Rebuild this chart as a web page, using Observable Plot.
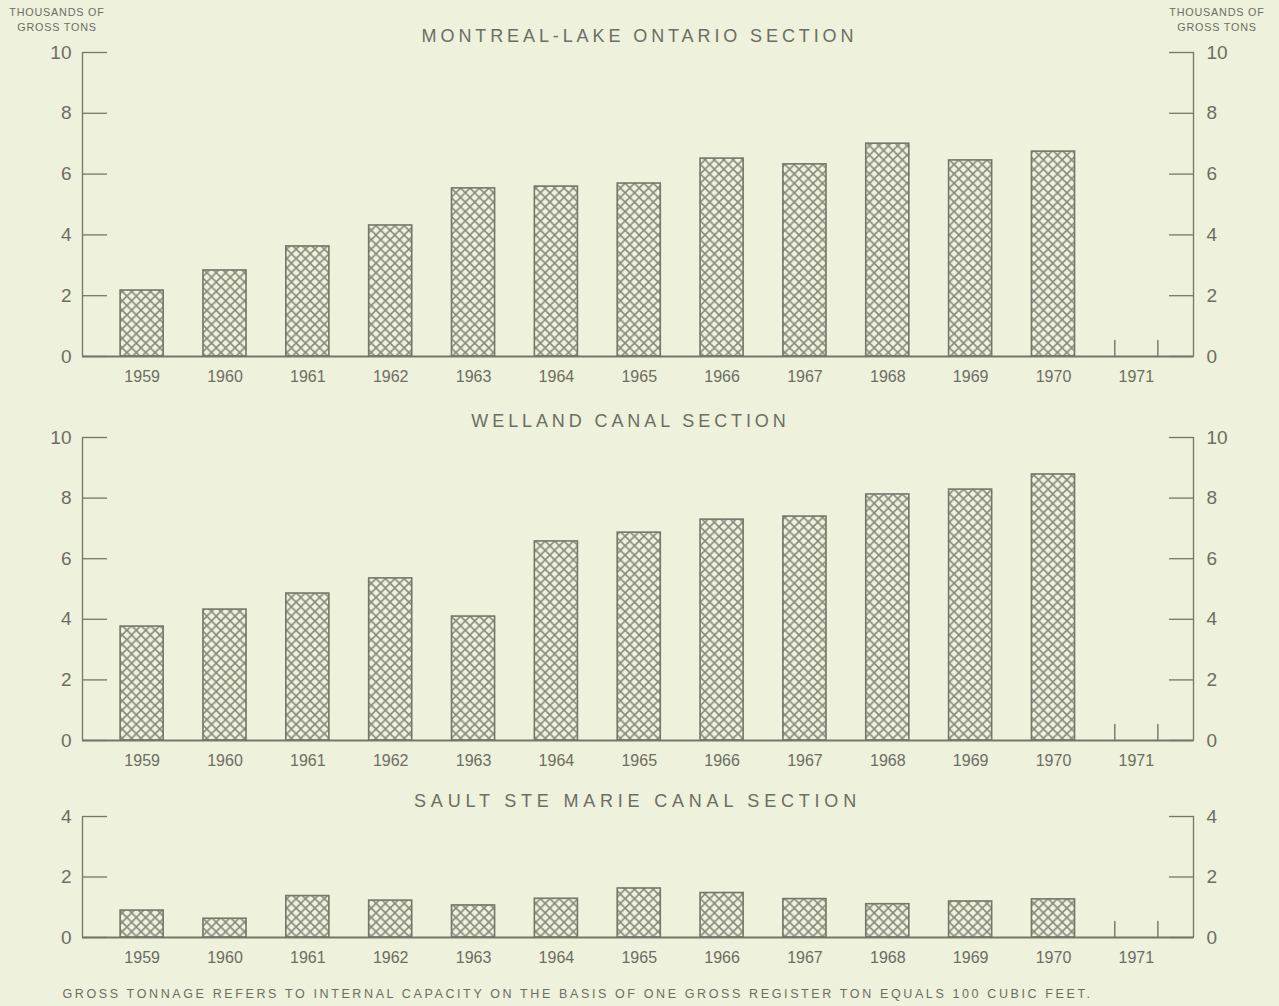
<!DOCTYPE html>
<html>
<head>
<meta charset="utf-8">
<script src="https://cdn.jsdelivr.net/npm/d3@7"></script>
<script src="https://cdn.jsdelivr.net/npm/@observablehq/plot@0.6"></script>
<style>
  html, body { margin: 0; padding: 0; background: #eef1dc; }
  body { width: 1279px; height: 1006px; position: relative; overflow: hidden;
         font-family: "Liberation Sans", "DejaVu Sans", sans-serif; color: #6c6e62; }
  .abs { position: absolute; }
  .title { font-size: 18px; letter-spacing: 3.9px; text-align: center; width: 1279px; left: 0; }
  .unit { font-size: 10.8px; letter-spacing: 0.8px; text-align: center; line-height: 15px; }
  .caption { font-size: 12.5px; letter-spacing: 2.62px; text-align: center; width: 1279px; left: -62px; }
  svg text { fill: #6c6e62; }
</style>
</head>
<body>
<svg width="0" height="0" style="position:absolute">
  <defs>
    <pattern id="hatch" patternUnits="userSpaceOnUse" width="9.4" height="9.4">
      <rect width="9.4" height="9.4" fill="#eef1dc"></rect>
      <path d="M0,0 L9.4,9.4 M9.4,0 L0,9.4 M-1,8.4 L1,10.4 M8.4,-1 L10.4,1" stroke="#85877a" stroke-width="1.5" fill="none"></path>
    </pattern>
  </defs>
</svg>

<div class="abs unit" style="left:0px; top:5px; width:114px;">THOUSANDS OF<br>GROSS TONS</div>
<div class="abs unit" style="left:1160px; top:5px; width:114px;">THOUSANDS OF<br>GROSS TONS</div>
<div class="abs title" style="top:26px;">MONTREAL-LAKE ONTARIO SECTION</div>
<div class="abs title" style="top:411px; left:-9px;">WELLAND CANAL SECTION</div>
<div class="abs title" style="top:791px; letter-spacing:4.8px; left:-2px;">SAULT STE MARIE CANAL SECTION</div>
<div class="abs caption" style="top:987px;">GROSS TONNAGE REFERS TO INTERNAL CAPACITY ON THE BASIS OF ONE GROSS REGISTER TON EQUALS 100 CUBIC FEET.</div>

<div id="p1" class="abs" style="left:0; top:0;"></div>
<div id="p2" class="abs" style="left:0; top:400px;"></div>
<div id="p3" class="abs" style="left:0; top:800px;"></div>

<script>
// ---- data ----
const years = [1959, 1960, 1961, 1962, 1963, 1964, 1965, 1966, 1967, 1968, 1969, 1970];
const yearTicks = [1959, 1960, 1961, 1962, 1963, 1964, 1965, 1966, 1967, 1968, 1969, 1970, 1971];
const emptyYears = [1971];
const montreal = [2.17, 2.83, 3.62, 4.31, 5.53, 5.59, 5.69, 6.51, 6.32, 7.0, 6.45, 6.74];
const welland = [3.76, 4.32, 4.85, 5.35, 4.09, 6.57, 6.86, 7.29, 7.39, 8.12, 8.28, 8.78];
const sault = [0.89, 0.62, 1.37, 1.22, 1.06, 1.28, 1.62, 1.47, 1.27, 1.10, 1.19, 1.26];
const bigTicks = [0, 2, 4, 6, 8, 10];
const smallTicks = [0, 2, 4];

// ---- styling ----
const ink = "#74766a";
const xDomain = [1958.28, 1971.69];
const halfBar = 0.26;
const tickMark = { draw(ctx, l) { ctx.moveTo(0, 0); ctx.lineTo(0, -l); } };

function panel(values, yMax, ticks, height, marginTop, marginBottom) {
  const data = years.map((year, i) => ({ year, value: values[i] }));
  const edges = emptyYears.flatMap(y => [y - halfBar, y + halfBar]);
  return Plot.plot({
    width: 1279,
    height,
    marginLeft: 82,
    marginRight: 86,
    marginTop,
    marginBottom,
    style: { background: "transparent", fontFamily: "Liberation Sans, DejaVu Sans, sans-serif", color: ink },
    x: { domain: xDomain, axis: null },
    y: { domain: [0, yMax], axis: null },
    marks: [
      Plot.rectY(data, {
        x1: d => d.year - halfBar,
        x2: d => d.year + halfBar,
        y: "value",
        fill: "url(#hatch)",
        stroke: ink,
        strokeWidth: 1.6
      }),
      Plot.vector(edges, { x: d => d, y: 0, length: 16, anchor: "start", shape: tickMark, stroke: ink, strokeWidth: 1.4 }),
      Plot.ruleY([0], { stroke: ink, strokeWidth: 1.8 }),
      Plot.ruleX([xDomain[0], xDomain[1]], { y1: 0, y2: yMax, stroke: ink, strokeWidth: 1.3 }),
      Plot.axisY(ticks, { anchor: "left", label: null, tickSize: -25, tickPadding: 36, stroke: ink, strokeWidth: 1.3, fontSize: 19, tickFormat: d => String(d) }),
      Plot.axisY(ticks, { anchor: "right", label: null, tickSize: -25, tickPadding: 38, stroke: ink, strokeWidth: 1.3, fontSize: 19, tickFormat: d => String(d) }),
      Plot.axisX(yearTicks, { anchor: "bottom", label: null, tickSize: 0, tickPadding: 14, fontSize: 16, tickFormat: d => String(d), style: "letter-spacing:3px" })
    ]
  });
}

document.getElementById("p1").append(panel(montreal, 10, bigTicks, 400, 52, 44));
document.getElementById("p2").append(panel(welland, 10, bigTicks, 400, 37, 60));
document.getElementById("p3").append(panel(sault, 4, smallTicks, 175, 16, 38));
</script>
</body>
</html>
